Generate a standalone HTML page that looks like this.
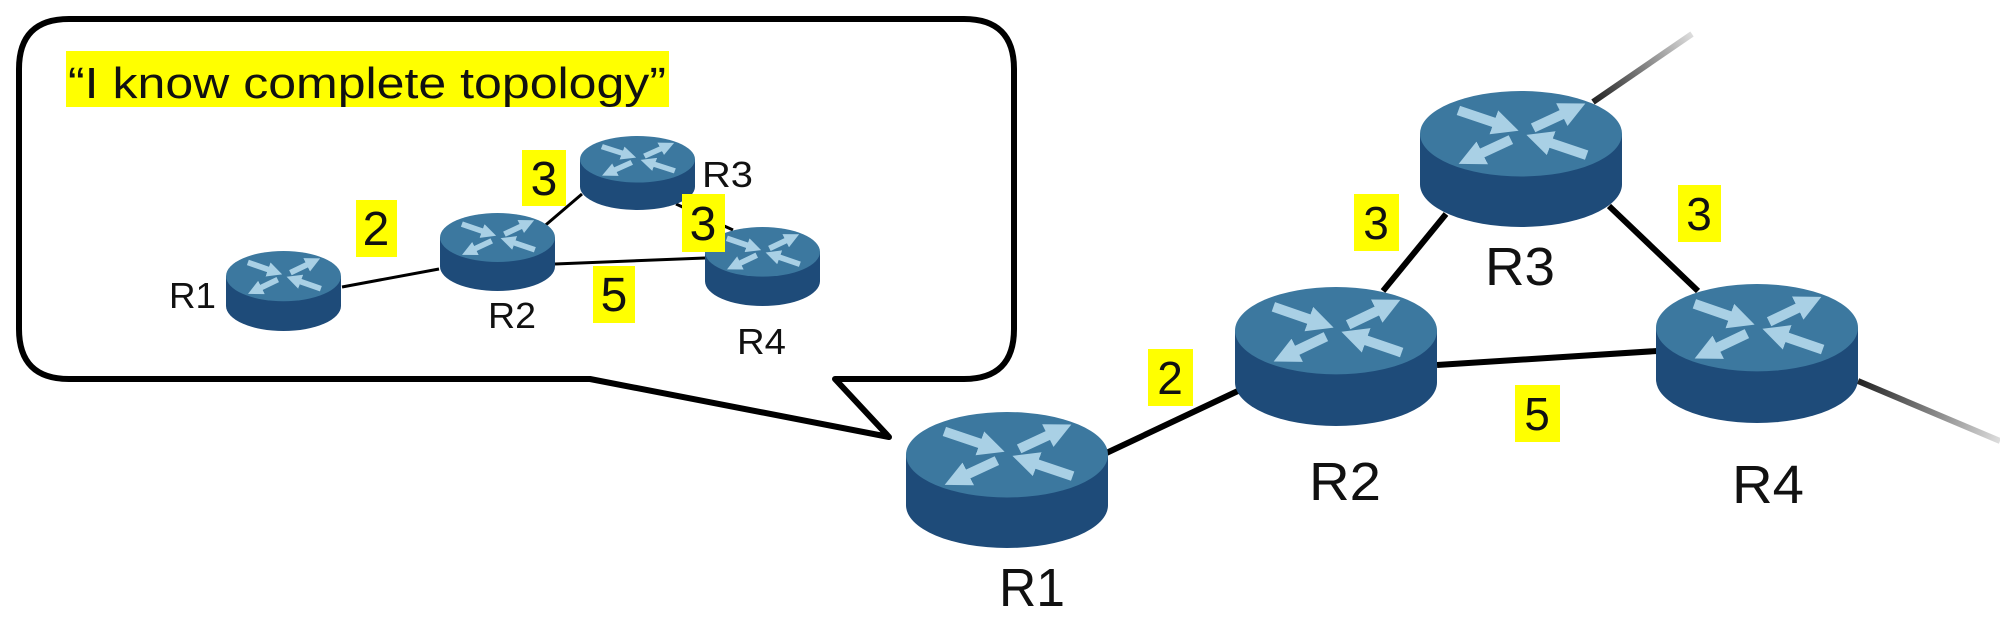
<!DOCTYPE html>
<html><head><meta charset="utf-8"><style>
html,body{margin:0;padding:0;background:#fff;}
svg{display:block;}
text{font-family:"Liberation Sans",Arial,sans-serif;fill:#111;}
</style></head><body>
<svg width="2000" height="626" viewBox="0 0 2000 626" xmlns="http://www.w3.org/2000/svg">
<defs>
<linearGradient id="g1" x1="1593" y1="102" x2="1692" y2="34" gradientUnits="userSpaceOnUse">
<stop offset="0" stop-color="#222"/><stop offset="1" stop-color="#ddd"/></linearGradient>
<linearGradient id="g2" x1="1858" y1="381" x2="2000" y2="441" gradientUnits="userSpaceOnUse">
<stop offset="0" stop-color="#222"/><stop offset="1" stop-color="#ddd"/></linearGradient>
<marker id="ah" viewBox="0 0 10 10" refX="2" refY="5" markerWidth="2.6" markerHeight="2.6" orient="auto" markerUnits="strokeWidth">
<path d="M0 0 L10 5 L0 10 Z" fill="#a9d0e5"/></marker>
<symbol id="rt" viewBox="0 0 200 140" preserveAspectRatio="none">
<path d="M0 44 V96 A100 44 0 0 0 200 96 V44 Z" fill="#1e4b79"/>
<ellipse cx="100" cy="44" rx="100" ry="44" fill="#3c789f"/>
<g stroke="#a9d0e5" stroke-width="10" fill="none" marker-end="url(#ah)">
<line x1="38" y1="20" x2="78" y2="34"/>
<line x1="165" y1="66" x2="125" y2="52"/>
<line x1="112" y1="38" x2="145" y2="22"/>
<line x1="90" y1="50" x2="57" y2="66"/>
</g>
</symbol>
</defs>

<!-- bubble -->
<path d="M69 19 H964 Q1014 19 1014 69 V329 Q1014 379 964 379 H835 L889 437 L590 379 H69 Q19 379 19 329 V69 Q19 19 69 19 Z" fill="#fff" stroke="#000" stroke-width="6" stroke-linejoin="round"/>
<rect x="66" y="51" width="603" height="56" fill="#ffff00"/>
<text x="68" y="98" font-size="44" textLength="598" lengthAdjust="spacingAndGlyphs">“I know complete topology”</text>

<!-- small lines -->
<g stroke="#000" stroke-width="3">
<line x1="342" y1="287" x2="439" y2="269"/>
<line x1="541" y1="229" x2="582" y2="194"/>
<line x1="676" y1="204" x2="733" y2="230"/>
<line x1="555" y1="264" x2="705" y2="258"/>
</g>
<use href="#rt" x="226" y="251" width="115" height="80"/>
<use href="#rt" x="440" y="213" width="115" height="78"/>
<use href="#rt" x="580" y="136" width="115" height="74"/>
<use href="#rt" x="705" y="227" width="115" height="79"/>
<g font-size="36">
<text x="169" y="308" textLength="47" lengthAdjust="spacingAndGlyphs">R1</text>
<text x="488" y="328" textLength="48" lengthAdjust="spacingAndGlyphs">R2</text>
<text x="702" y="187" textLength="51" lengthAdjust="spacingAndGlyphs">R3</text>
<text x="737" y="354" textLength="49" lengthAdjust="spacingAndGlyphs">R4</text>
</g>
<g fill="#ffff00">
<rect x="356" y="200" width="41" height="57"/>
<rect x="522" y="150" width="44" height="56"/>
<rect x="682" y="194" width="43" height="58"/>
<rect x="593" y="266" width="42" height="57"/>
</g>
<g font-size="48" text-anchor="middle">
<text x="376" y="245">2</text>
<text x="544" y="195">3</text>
<text x="703" y="240">3</text>
<text x="614" y="311">5</text>
</g>

<!-- big lines -->
<line x1="1593" y1="102" x2="1692" y2="34" stroke="url(#g1)" stroke-width="6"/>
<line x1="1858" y1="381" x2="2000" y2="441" stroke="url(#g2)" stroke-width="6"/>
<g stroke="#000" stroke-width="6">
<line x1="1100" y1="456" x2="1240" y2="390"/>
<line x1="1383" y1="291" x2="1446" y2="214"/>
<line x1="1609" y1="206" x2="1698" y2="291"/>
<line x1="1437" y1="365" x2="1657" y2="351"/>
</g>
<use href="#rt" x="906" y="412" width="202" height="136"/>
<use href="#rt" x="1235" y="287" width="202" height="139"/>
<use href="#rt" x="1420" y="91" width="202" height="136"/>
<use href="#rt" x="1656" y="284" width="202" height="139"/>
<g font-size="54">
<text x="999" y="606" textLength="66" lengthAdjust="spacingAndGlyphs">R1</text>
<text x="1309" y="500" textLength="72" lengthAdjust="spacingAndGlyphs">R2</text>
<text x="1485" y="285" textLength="70" lengthAdjust="spacingAndGlyphs">R3</text>
<text x="1732" y="503" textLength="72" lengthAdjust="spacingAndGlyphs">R4</text>
</g>
<g fill="#ffff00">
<rect x="1148" y="349" width="45" height="57"/>
<rect x="1354" y="194" width="45" height="57"/>
<rect x="1678" y="185" width="43" height="57"/>
<rect x="1515" y="385" width="45" height="57"/>
</g>
<g font-size="46" text-anchor="middle">
<text x="1170" y="394">2</text>
<text x="1376" y="239">3</text>
<text x="1699" y="230">3</text>
<text x="1537" y="430">5</text>
</g>
</svg>
</body></html>
